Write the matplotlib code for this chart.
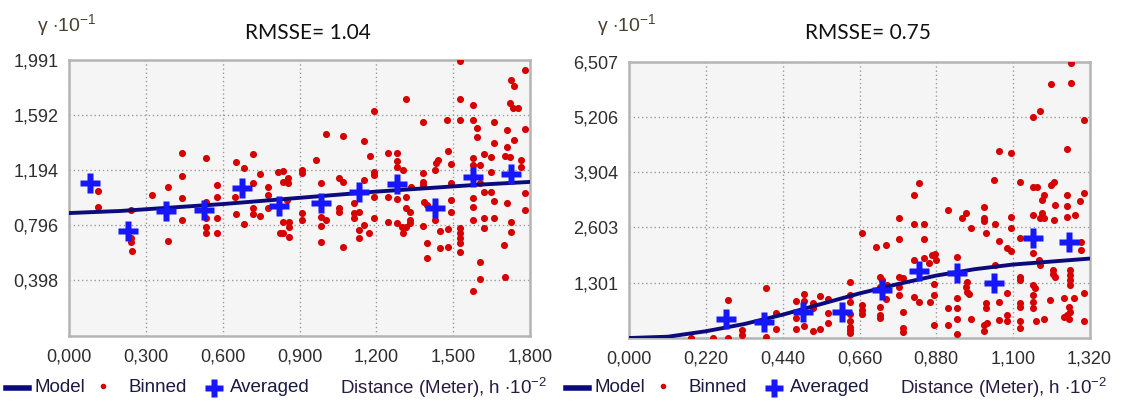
import matplotlib
matplotlib.use("Agg")
import matplotlib.pyplot as plt
from matplotlib.lines import Line2D

plt.rcParams['font.family'] = ['Liberation Sans', 'DejaVu Sans']
plt.rcParams['mathtext.fontset'] = 'custom'
plt.rcParams['mathtext.rm'] = 'Liberation Sans'
plt.rcParams['mathtext.it'] = 'Liberation Sans:italic'

# ---- left semivariogram (distance in h*10^-2, gamma in 10^-1) ----
binned_left = [
    (0.113, 1.044), (0.322, 1.015), (0.384, 1.071), (0.439, 1.321), (0.439, 1.155), (0.439, 0.991),
    (0.533, 1.280), (0.576, 1.087), (0.576, 1.003), (0.650, 1.251), (0.684, 1.208), (0.717, 1.309),
    (0.745, 1.167), (0.717, 1.100), (0.778, 1.075), (0.778, 1.015), (0.816, 1.183), (0.648, 1.003),
    (0.834, 1.189), (0.834, 1.111), (0.856, 1.138), (0.856, 1.100), (0.908, 1.196), (0.908, 1.172),
    (0.963, 1.268), (1.002, 1.456), (1.069, 1.441), (0.984, 1.100), (1.052, 1.140), (1.069, 1.111),
    (1.152, 1.405), (1.173, 1.297), (1.192, 1.622), (1.191, 1.183), (1.191, 1.160), (1.152, 1.124),
    (1.247, 1.321), (1.280, 1.321), (1.280, 1.261), (1.282, 1.220), (1.303, 1.196), (1.315, 1.707),
    (1.336, 1.075), (1.382, 1.540), (1.382, 1.172), (1.382, 1.111), (1.382, 1.087), (1.427, 1.196),
    (1.434, 1.244), (1.440, 1.268), (1.476, 1.557), (1.478, 1.333), (1.491, 1.237), (1.491, 1.100),
    (1.525, 1.983), (1.525, 1.707), (1.525, 1.557), (1.577, 1.665), (1.577, 1.557), (1.593, 1.501),
    (1.593, 1.436), (1.577, 1.280), (1.577, 1.232), (1.606, 1.232), (1.619, 1.309), (1.648, 1.292),
    (1.648, 1.183), (1.606, 1.100), (1.619, 1.039), (1.648, 1.039), (1.661, 1.540), (1.661, 1.389),
    (1.711, 1.485), (1.711, 1.364), (1.702, 1.297), (1.723, 1.292), (1.723, 1.678), (1.733, 1.642),
    (1.754, 1.642), (1.739, 1.412), (1.727, 1.846), (1.739, 1.803), (1.782, 1.918), (1.782, 1.490),
    (1.766, 1.268), (1.766, 1.220), (1.782, 1.032),
    (0.113, 0.931), (0.241, 0.907), (0.241, 0.707), (0.241, 0.678), (0.244, 0.613), (0.384, 0.683),
    (0.439, 0.834), (0.533, 0.967), (0.533, 0.847), (0.533, 0.786), (0.533, 0.738), (0.576, 0.851),
    (0.576, 0.738), (0.650, 0.876), (0.684, 0.803), (0.717, 0.919), (0.717, 0.876), (0.745, 0.863),
    (0.778, 0.919), (0.824, 0.738),
    (0.834, 0.822), (0.834, 0.738), (0.860, 0.822), (0.860, 0.786), (0.860, 0.714), (0.852, 0.979),
    (0.908, 0.883), (0.908, 0.834), (0.983, 0.858), (1.002, 0.834), (0.983, 0.791), (0.983, 0.678),
    (1.052, 0.923), (1.052, 0.894), (1.071, 0.642), (1.113, 0.955), (1.113, 0.883), (1.113, 0.847),
    (1.133, 0.894), (1.133, 0.762), (1.133, 0.707), (1.152, 0.798), (1.172, 0.738), (1.192, 1.003),
    (1.192, 0.851), (1.247, 1.003), (1.247, 0.822), (1.280, 0.986), (1.280, 0.811), (1.300, 0.786),
    (1.303, 0.738), (1.316, 0.919), (1.332, 0.894), (1.332, 0.834), (1.332, 0.811), (1.316, 0.786),
    (1.315, 1.003), (1.384, 0.967), (1.397, 0.943), (1.382, 0.793), (1.397, 0.671), (1.397, 0.562),
    (1.430, 0.834), (1.447, 0.755), (1.447, 0.630), (1.478, 0.767), (1.478, 0.642), (1.491, 0.979),
    (1.491, 0.890), (1.528, 0.775), (1.528, 0.738), (1.528, 0.702), (1.528, 0.666), (1.528, 0.601),
    (1.577, 0.991), (1.577, 0.931), (1.577, 0.834), (1.606, 0.529), (1.606, 0.408), (1.577, 0.322),
    (1.619, 0.851), (1.619, 0.779), (1.661, 0.972), (1.661, 0.851),
    (1.711, 0.955), (1.727, 0.822), (1.727, 0.750), (1.700, 0.654), (1.702, 0.421), (1.782, 0.907),
]
avg_x_left = [0.080, 0.230, 0.378, 0.527, 0.674, 0.820, 0.983, 1.132, 1.280, 1.430, 1.579, 1.727]
avg_y_left = [1.102, 0.755, 0.900, 0.907, 1.066, 0.936, 0.958, 1.037, 1.098, 0.921, 1.146, 1.167]
model_x_left = [0.0, 0.2, 0.4, 0.6, 0.8, 1.0, 1.2, 1.4, 1.6, 1.8]
model_y_left = [0.885, 0.900, 0.925, 0.950, 0.980, 1.010, 1.040, 1.065, 1.090, 1.110]
xticks_left = [0.0, 0.3, 0.6, 0.9, 1.2, 1.5, 1.8]
yticks_left = [0.398, 0.796, 1.194, 1.592, 1.991]
title_left = "RMSSE= 1.04"

# ---- right semivariogram ----
binned_right = [
    (1.209, 5.976), (1.178, 5.348), (1.157, 5.207), (1.059, 4.400), (1.094, 4.360), (0.831, 3.640),
    (0.817, 3.365), (1.047, 3.718), (1.119, 3.678), (1.159, 3.546), (1.169, 3.546), (1.190, 3.365),
    (1.209, 3.600), (1.218, 3.678), (1.266, 6.478), (1.266, 6.016), (1.304, 5.129), (1.254, 4.447),
    (1.304, 3.404), (1.256, 3.365),
    (0.177, 0.010), (0.239, 0.010), (0.282, 0.887), (0.282, 0.010), (0.322, 0.188), (0.322, 0.071),
    (0.391, 1.169), (0.391, 0.031), (0.421, 0.581), (0.421, 0.212), (0.477, 0.871), (0.477, 0.478),
    (0.477, 0.212), (0.502, 1.028), (0.502, 0.871), (0.502, 0.289), (0.526, 0.816), (0.526, 0.699),
    (0.526, 0.165), (0.547, 0.988), (0.547, 0.212), (0.571, 0.918), (0.571, 0.581), (0.571, 0.346),
    (0.667, 2.464), (0.707, 2.148), (0.735, 2.188), (0.772, 2.831), (0.772, 2.329), (0.815, 2.682),
    (0.845, 2.682), (0.845, 2.329), (0.845, 1.875), (0.867, 1.953), (0.877, 1.969), (0.879, 1.835),
    (0.858, 1.757), (0.815, 1.835), (0.784, 1.404), (0.772, 1.207), (0.772, 1.012), (0.815, 0.972),
    (0.831, 0.840), (0.861, 0.840), (0.875, 1.264), (0.875, 1.012), (0.875, 0.306), (0.784, 0.605),
    (0.784, 0.228), (0.784, 0.134), (0.719, 1.443), (0.724, 1.365), (0.719, 1.207), (0.738, 1.247),
    (0.719, 0.736), (0.719, 0.541), (0.719, 0.463), (0.735, 0.918), (0.772, 1.443), (0.667, 0.776),
    (0.667, 0.659), (0.667, 0.557), (0.633, 1.325), (0.633, 1.012), (0.633, 0.854), (0.633, 0.400),
    (0.633, 0.266), (0.633, 0.188), (0.633, 0.557), (0.915, 3.012), (0.954, 2.816), (0.966, 2.934),
    (0.980, 2.595), (1.016, 3.089), (1.016, 2.831), (1.016, 2.753), (1.049, 2.675), (1.023, 2.464),
    (1.060, 2.282), (1.094, 2.854), (1.094, 2.595), (1.083, 2.111), (1.094, 2.047), (0.939, 1.913),
    (0.968, 1.325), (0.966, 1.207), (0.968, 1.089), (0.975, 1.028), (0.939, 0.934), (0.939, 0.713),
    (0.939, 0.447), (0.915, 0.713), (0.915, 0.306), (0.939, 0.087), (0.980, 0.447), (1.016, 0.306),
    (1.025, 0.346), (1.016, 0.165), (1.023, 0.816), (1.023, 0.699), (1.060, 0.840), (1.060, 0.424),
    (1.083, 0.541), (1.083, 0.400), (1.049, 1.718), (1.083, 1.052), (1.121, 1.443), (1.121, 1.365),
    (1.121, 0.816), (1.121, 0.736), (1.121, 0.400), (1.121, 0.228), (1.157, 1.247), (1.164, 1.169),
    (1.157, 1.012), (1.157, 0.854), (1.157, 0.699), (1.167, 0.400), (1.190, 0.447), (1.207, 0.894),
    (1.216, 1.600), (1.216, 1.499), (1.221, 1.443), (1.183, 3.247), (1.183, 2.934), (1.178, 2.831),
    (1.188, 2.831), (1.121, 2.346), (1.157, 1.993), (1.175, 1.835), (1.178, 1.718), (0.633, 0.110),
    (1.256, 3.106), (1.293, 3.224), (1.254, 2.854), (1.279, 2.894), (1.295, 2.266), (1.295, 2.071),
    (1.264, 1.600), (1.264, 1.482), (1.264, 1.365), (1.264, 1.247), (1.304, 1.066), (1.247, 0.934),
    (1.276, 0.934), (1.261, 0.736), (1.264, 0.619), (1.247, 0.487), (1.256, 0.541), (1.261, 0.440),
    (1.304, 0.407), (1.157, 2.894), (1.220, 3.129), (1.218, 2.776),
]
avg_x_right = [0.277, 0.387, 0.497, 0.609, 0.724, 0.831, 0.939, 1.047, 1.157, 1.261]
avg_y_right = [0.440, 0.369, 0.605, 0.620, 1.129, 1.576, 1.522, 1.301, 2.346, 2.266]
model_x_right = [0.0, 0.11, 0.22, 0.33, 0.44, 0.55, 0.66, 0.77, 0.88, 0.99, 1.10, 1.21, 1.32]
model_y_right = [0.0, 0.03, 0.16, 0.33, 0.55, 0.80, 1.05, 1.27, 1.47, 1.62, 1.73, 1.80, 1.87]
xticks_right = [0.0, 0.22, 0.44, 0.66, 0.88, 1.10, 1.32]
yticks_right = [1.301, 2.603, 3.904, 5.206, 6.507]
title_right = "RMSSE= 0.75"

W, H = 1121, 404
RED = '#d60000'
NAVY = '#0b0b7e'
BLUE = '#1616ff'
TXT = '#2e2e2e'


def fmt(v):
    return ('%.3f' % v).replace('.', ',')


def panel(rect, binned, ax_x, ax_y, mx, my, xticks, yticks):
    ax = fig.add_axes(rect)
    ax.set_facecolor('#f5f5f5')
    bx = [p[0] for p in binned]
    by = [p[1] for p in binned]
    ax.scatter(bx, by, s=26, color=RED, linewidths=0, zorder=3)
    ax.plot(mx, my, color=NAVY, lw=2.8, zorder=4)
    ax.plot(ax_x, ax_y, 'P', ms=14, color=BLUE, mec='none', zorder=5)
    ax.set_xlim(xticks[0], xticks[-1])
    ax.set_ylim(0, yticks[-1])
    ax.set_xticks(xticks, [fmt(v) for v in xticks])
    ax.set_yticks(yticks, [fmt(v) for v in yticks])
    ax.grid(True, ls=(0, (1, 2)), color='#9c9c9c', lw=1)
    ax.tick_params(length=0, labelsize=13, labelcolor=TXT)
    ax.tick_params(axis='x', pad=9)
    ax.tick_params(axis='y', pad=8)
    for s in ax.spines.values():
        s.set_color('#b4b4b4')
        s.set_linewidth(1.8)
    return ax


def legend_row(x0, y):
    fy = 1 - y / H
    fig.add_artist(Line2D([(x0 + 6) / W, (x0 + 29) / W], [fy, fy], color=NAVY, lw=4))
    fig.text((x0 + 34) / W, fy, "Model", fontsize=13.5, color='#1a1a40', va='center')
    fig.add_artist(Line2D([(x0 + 103) / W], [fy + 2 / H], marker='o', ms=4, color=RED, mec='none'))
    fig.text((x0 + 129) / W, fy, "Binned", fontsize=13.5, color='#1a1a40', va='center')
    fig.add_artist(Line2D([(x0 + 214) / W], [fy], marker='P', ms=13, color=BLUE, mec='none'))
    fig.text((x0 + 230) / W, fy, "Averaged", fontsize=13.5, color='#1a1a40', va='center')
    fig.text((x0 + 340) / W, fy, r"Distance (Meter), h $\cdot$10$^{-2}$", fontsize=13.5,
             color='#2a1a40', va='center')


fig = plt.figure(figsize=(W / 100, H / 100), dpi=100)

panel([69.4 / W, 1 - 335.5 / H, 460.6 / W, 275.5 / H], binned_left, avg_x_left, avg_y_left,
      model_x_left, model_y_left, xticks_left, yticks_left)
panel([629.4 / W, 1 - 338 / H, 460.2 / W, 276.3 / H], binned_right, avg_x_right, avg_y_right,
      model_x_right, model_y_right, xticks_right, yticks_right)

for x0, title in [(0, title_left), (560, title_right)]:
    fig.text((x0 + 37) / W, 1 - 25 / H, r"γ $\cdot$10$^{-1}$", fontsize=14, color='#4a4030', va='center')
    fig.text((x0 + 308) / W, 1 - 33 / H, title, fontsize=15, family='Lato', color='#111111',
             ha='center', va='center')
    legend_row(x0, 388)

fig.savefig("out.png", dpi=100)
